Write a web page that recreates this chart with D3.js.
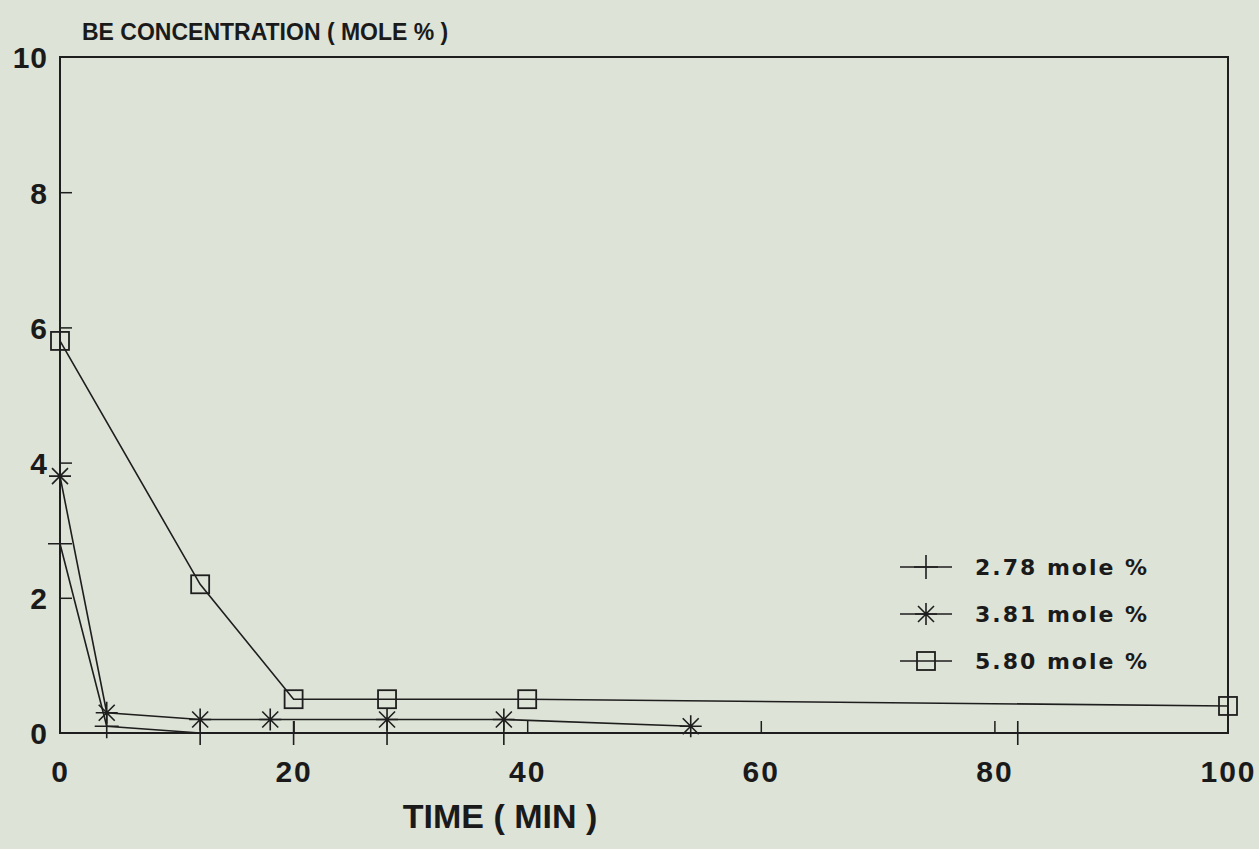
<!DOCTYPE html>
<html><head><meta charset="utf-8">
<script src="https://cdn.jsdelivr.net/npm/d3@7"></script>
<style>
html,body{margin:0;padding:0;background:#dde3d7;}
svg{display:block;}
text{font-family:"Liberation Sans",Arial,sans-serif;font-weight:bold;fill:#1a1a1a;}
</style></head>
<body>
<svg id="chart" width="1259" height="849"></svg>
<script>
const xTicks = [0, 20, 40, 60, 80, 100];
const yTicks = [0, 2, 4, 6, 8, 10];
const seriesNames = ["2.78 mole %", "3.81 mole %", "5.80 mole %"];
const s278 = [[0, 2.8], [4, 0.1], [12, 0.0], [20, 0.0], [28, 0.0], [38, 0.0], [82, 0.0]];
const s381 = [[0, 3.8], [4, 0.3], [12, 0.2], [18, 0.2], [28, 0.2], [38, 0.2], [54, 0.1]];
const s580 = [[0, 5.8], [12, 2.2], [20, 0.5], [28, 0.5], [40, 0.5], [100, 0.4]];
const markers = ["plus", "star", "square"];

const svg = d3.select("#chart");
const L = 60, R = 1228, T = 57, B = 733;
const x = d3.scaleLinear().domain([0, 100]).range([L, R]);
const y = d3.scaleLinear().domain([0, 10]).range([B, T]);
const ink = "#1e1e1e";

// frame
svg.append("rect").attr("x", L).attr("y", T).attr("width", R - L).attr("height", B - T)
  .attr("fill", "none").attr("stroke", ink).attr("stroke-width", 2);

// axes with inward ticks
const xAxis = d3.axisBottom(x).tickValues(xTicks).tickSize(-12).tickPadding(28).tickFormat(d3.format("d"));
const gx = svg.append("g").attr("transform", `translate(0,${B})`).call(xAxis);
gx.select(".domain").remove();
gx.selectAll(".tick line").attr("stroke", ink).attr("stroke-width", 1.5)
  .filter(d => d === 0 || d === 100).remove();
gx.selectAll(".tick text").attr("font-size", 30).attr("letter-spacing", 2).attr("dy", "0.71em").style("fill", "#1a1a1a");

const yAxis = d3.axisLeft(y).tickValues(yTicks).tickSize(-12).tickPadding(12).tickFormat(d3.format("d"));
const gy = svg.append("g").attr("transform", `translate(${L},0)`).call(yAxis);
gy.select(".domain").remove();
gy.selectAll(".tick line").attr("stroke", ink).attr("stroke-width", 1.5)
  .filter(d => d === 0 || d === 10).remove();
gy.selectAll(".tick text").attr("font-size", 30).attr("letter-spacing", 1).attr("dy", "0.36em").style("fill", "#1a1a1a");

// titles
svg.append("text").attr("x", 82).attr("y", 40).attr("font-size", 23).text("BE CONCENTRATION ( MOLE % )");
svg.append("text").attr("x", 500).attr("y", 828).attr("text-anchor", "middle").attr("font-size", 34).text("TIME ( MIN )");

// marker drawing
function drawMarker(g, type, cx, cy) {
  if (type === "plus") {
    g.append("path").attr("d", `M${cx-12},${cy}H${cx+12}M${cx},${cy-12}V${cy+12}`)
      .attr("stroke", ink).attr("stroke-width", 1.6).attr("fill", "none");
  } else if (type === "star") {
    const r = 11, rd = 8;
    g.append("path").attr("d",
      `M${cx-r},${cy}H${cx+r}M${cx},${cy-r}V${cy+r}M${cx-rd},${cy-rd}L${cx+rd},${cy+rd}M${cx-rd},${cy+rd}L${cx+rd},${cy-rd}`)
      .attr("stroke", ink).attr("stroke-width", 1.6).attr("fill", "none");
  } else {
    g.append("rect").attr("x", cx - 9).attr("y", cy - 9).attr("width", 18).attr("height", 18)
      .attr("fill", "none").attr("stroke", ink).attr("stroke-width", 1.8);
  }
}

const line = d3.line().x(d => x(d[0])).y(d => y(d[1]));
[s278, s381, s580].forEach((s, i) => {
  const g = svg.append("g");
  g.append("path").attr("d", line(s)).attr("fill", "none").attr("stroke", ink).attr("stroke-width", 1.6);
  s.forEach(d => drawMarker(g, markers[i], x(d[0]), y(d[1])));
});

// legend
const legY = [567, 614, 661];
seriesNames.forEach((name, i) => {
  const g = svg.append("g");
  g.append("line").attr("x1", 900).attr("x2", 952).attr("y1", legY[i]).attr("y2", legY[i])
    .attr("stroke", ink).attr("stroke-width", 1.6);
  drawMarker(g, markers[i], 926, legY[i]);
  g.append("text").attr("x", 975).attr("y", legY[i]).attr("dy", "0.36em").attr("font-size", 22)
    .style("font-family", "'DejaVu Sans', sans-serif").attr("letter-spacing", 2).text(name);
});
</script>
</body></html>
